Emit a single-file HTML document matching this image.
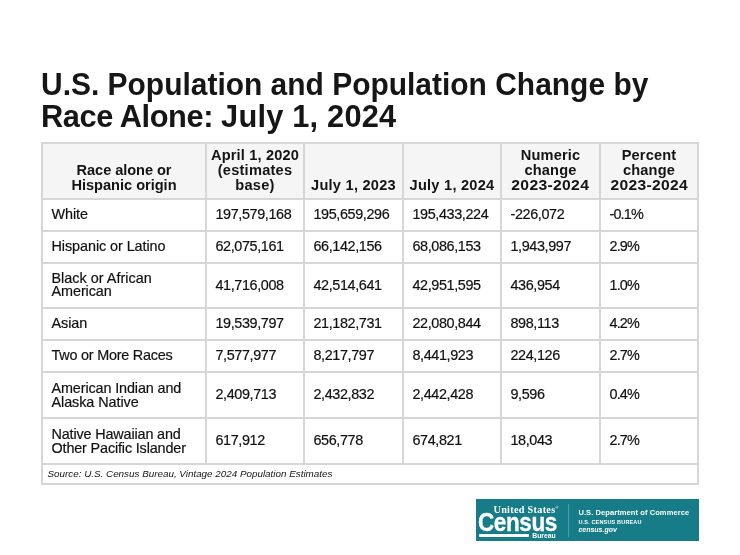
<!DOCTYPE html>
<html lang="en">
<head>
<meta charset="utf-8">
<title>U.S. Population and Population Change by Race Alone: July 1, 2024</title>
<style>
html,body{margin:0;padding:0;background:#fff;}
body{width:740px;height:555px;position:relative;overflow:hidden;font-family:"Liberation Sans",Arial,sans-serif;color:#1a1a1a;}
h1{position:absolute;left:41px;top:69px;margin:0;font-size:31.3px;line-height:32px;font-weight:bold;color:#161616;white-space:nowrap;}
h1 span{display:block;transform-origin:0 0;}
h1 b{font-weight:bold;}
h1 .l1{transform:scaleX(0.957);}
h1 .l2{transform:scaleX(0.984);}
table{position:absolute;left:41px;top:142px;width:656px;border-collapse:collapse;table-layout:fixed;}
td,th{border:2px solid #d6d6d6;padding:0 0 2px 8.5px;font-size:14.4px;letter-spacing:-0.38px;line-height:14px;text-align:left;vertical-align:middle;font-weight:normal;color:#111;-webkit-text-stroke:0.2px #111;}
th{background:#f5f5f5;font-weight:bold;font-size:14.6px;letter-spacing:0.3px;line-height:15px;text-align:center;vertical-align:bottom;padding:0 0 5px 0;color:#141414;-webkit-text-stroke:0;}
td:first-child{letter-spacing:-0.07px;}
tr.d1 td:first-child{line-height:13px;}
td:last-child{letter-spacing:-0.85px;}
tr.f td:last-child{letter-spacing:0;}
tr.d td:first-child{padding-bottom:0;}
th i{font-style:normal;}
tr.h{height:56px;}
tr.s{height:32px;}
tr.d{height:46px;}
tr.d1{height:45px;}
tr.f{height:20px;}
tr.f td{font-size:9.85px;font-style:italic;padding:0 0 0 4.5px;color:#151515;-webkit-text-stroke:0;letter-spacing:0px;}
.logo{position:absolute;left:476px;top:499px;width:223px;height:41.5px;background:#167c87;color:#fff;}
.logo div{position:absolute;white-space:nowrap;transform-origin:0 0;}
.us{left:17.5px;top:4px;font-family:"Liberation Serif",serif;font-weight:bold;font-size:10.2px;line-height:10px;letter-spacing:0.3px;}
.cen{left:2px;top:10.5px;font-weight:bold;font-size:25.5px;line-height:25.5px;transform:scaleX(0.885);letter-spacing:-0.5px;-webkit-text-stroke:0.3px #fff;}
.bar{left:3px;top:34.5px;width:50px;height:3.3px;background:#fff;border-radius:1px;}
.bur{left:56.3px;top:32.5px;font-weight:bold;font-size:6.8px;line-height:7px;}
.vl{left:92px;top:5px;width:1px;height:33px;background:#4f9ea6;}
.t1{left:102.4px;top:10.2px;font-weight:bold;font-size:7.5px;line-height:8px;letter-spacing:0.09px;}
.t2{left:102.4px;top:19.5px;font-weight:bold;font-size:5.5px;line-height:6px;letter-spacing:0.17px;}
.t3{left:102.4px;top:27px;font-weight:bold;font-style:italic;font-size:7px;line-height:7px;}
</style>
</head>
<body>
<h1><span class="l1">U.S. Population and Population Change by</span><span class="l2"><b style="letter-spacing:-0.45px">Race Alone: </b><b style="letter-spacing:0.2px">July 1, 2024</b></span></h1>
<table>
<colgroup><col style="width:164px"><col style="width:98px"><col style="width:99px"><col style="width:98px"><col style="width:99px"><col style="width:98px"></colgroup>
<tr class="h"><th><i id="h11" style="letter-spacing:-0.07px">Race alone or</i><br><i id="h12" style="letter-spacing:-0.02px">Hispanic origin</i></th><th><i id="h21" style="letter-spacing:0.16px">April 1, 2020</i><br><i id="h22" style="letter-spacing:0.24px">(estimates</i><br><i id="h23" style="letter-spacing:0.25px">base)</i></th><th><i id="h31" style="letter-spacing:0.25px">July 1, 2023</i></th><th><i id="h41" style="letter-spacing:0.25px">July 1, 2024</i></th><th><i id="h51" style="letter-spacing:0.16px">Numeric</i><br><i id="h52" style="letter-spacing:0.12px">change</i><br><i id="h53" style="letter-spacing:0.3px;display:inline-block;transform:scaleX(1.075)">2023-2024</i></th><th><i id="h61" style="letter-spacing:0.17px">Percent</i><br><i id="h62" style="letter-spacing:0.12px">change</i><br><i id="h63" style="letter-spacing:0.3px;display:inline-block;transform:scaleX(1.07)">2023-2024</i></th></tr>
<tr class="s"><td>White</td><td>197,579,168</td><td>195,659,296</td><td>195,433,224</td><td>-226,072</td><td>-0.1%</td></tr>
<tr class="s"><td>Hispanic or Latino</td><td>62,075,161</td><td>66,142,156</td><td>68,086,153</td><td>1,943,997</td><td>2.9%</td></tr>
<tr class="d1"><td><span style="letter-spacing:0.02px">Black or African</span><br>American</td><td>41,716,008</td><td>42,514,641</td><td>42,951,595</td><td>436,954</td><td>1.0%</td></tr>
<tr class="s"><td>Asian</td><td>19,539,797</td><td>21,182,731</td><td>22,080,844</td><td>898,113</td><td>4.2%</td></tr>
<tr class="s"><td><span style="letter-spacing:-0.22px">Two or More Races</span></td><td>7,577,977</td><td>8,217,797</td><td>8,441,923</td><td>224,126</td><td>2.7%</td></tr>
<tr class="d"><td><span style="letter-spacing:-0.12px">American Indian and</span><br>Alaska Native</td><td>2,409,713</td><td>2,432,832</td><td>2,442,428</td><td>9,596</td><td>0.4%</td></tr>
<tr class="d"><td><span style="letter-spacing:-0.15px">Native Hawaiian and</span><br><span style="letter-spacing:-0.15px">Other Pacific Islander</span></td><td>617,912</td><td>656,778</td><td>674,821</td><td>18,043</td><td>2.7%</td></tr>
<tr class="f"><td colspan="6">Source: U.S. Census Bureau, Vintage 2024 Population Estimates</td></tr>
</table>
<div class="logo">
<div class="us">United States<span style="font-size:4px;vertical-align:4px">®</span></div>
<div class="cen">Census</div>
<div class="bar"></div>
<div class="bur">Bureau</div>
<div class="vl"></div>
<div class="t1">U.S. Department of Commerce</div>
<div class="t2">U.S. CENSUS BUREAU</div>
<div class="t3">census.gov</div>
</div>
</body>
</html>
